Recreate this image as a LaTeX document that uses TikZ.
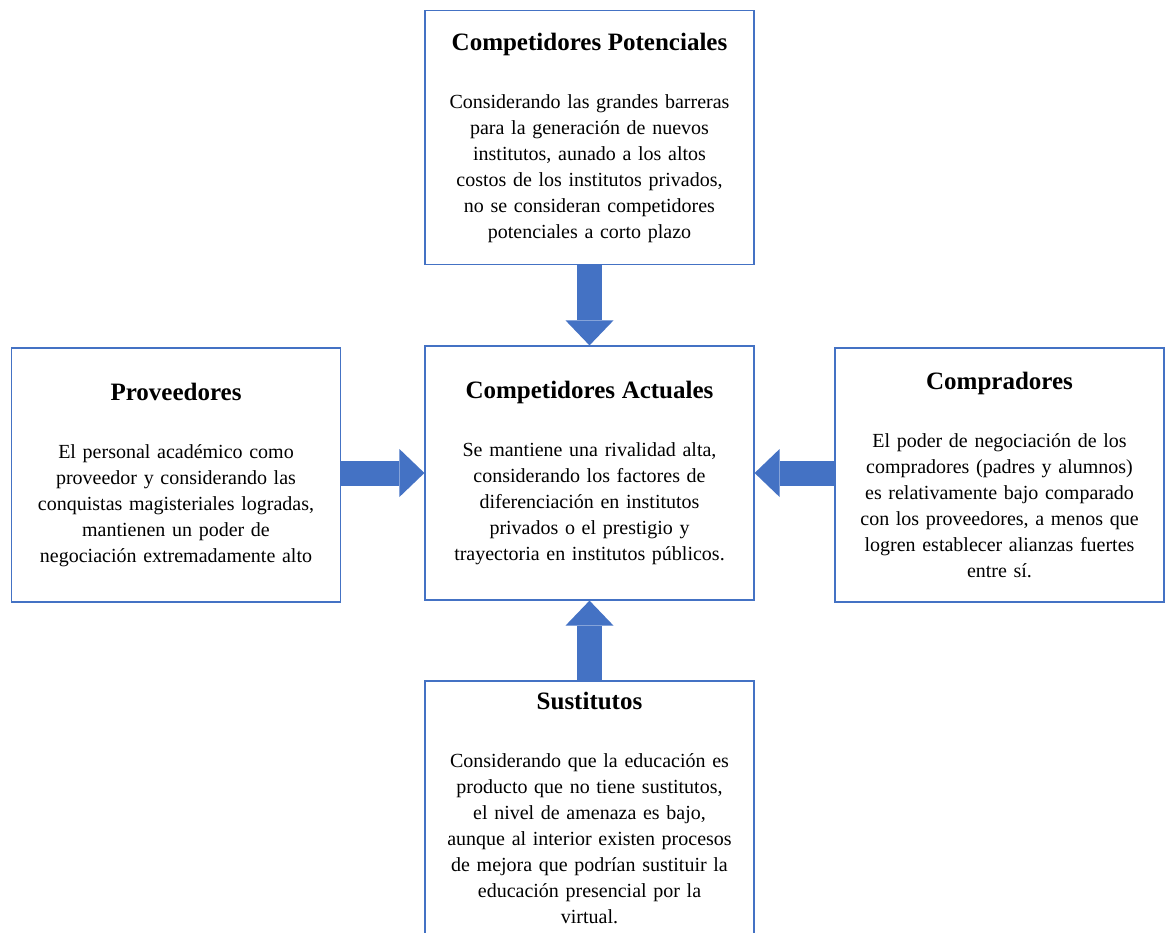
\documentclass[tikz,border=0pt]{standalone}
\usepackage{fontspec}
\setmainfont{Liberation Serif}
\usepackage{xcolor}
\usetikzlibrary{arrows.meta}
\definecolor{azul}{HTML}{4472C4}
\newcommand{\titulo}[1]{{\bfseries\fontsize{25}{30}\selectfont #1}\\[32pt]}

\begin{document}
\begin{tikzpicture}[x=1pt,y=-1pt,
        caja/.style={draw=azul,line width=1.2pt,fill=white,minimum width=329pt,minimum height=254pt,
            text width=320pt,align=center,inner sep=2pt,font=\fontsize{20}{26}\selectfont},
        flecha/.style={azul,line width=25pt,-{Triangle[width=48pt,length=25pt,line width=0pt]}}]
        \useasboundingbox (0,0) rectangle (1165,932);
        % cajas
        \node[caja](potenciales) at (589.5,137.5){\titulo{Competidores Potenciales}
            Considerando las grandes barreras\\ para la generación de nuevos\\ institutos, aunado a los altos\\
            costos de los institutos privados,\\ no se consideran competidores\\ potenciales a corto plazo};
        \node[caja](actuales) at (589.5,473){\titulo{Competidores Actuales}
            Se mantiene una rivalidad alta,\\ considerando los factores de\\ diferenciación en institutos\\
            privados o el prestigio y\\ trayectoria en institutos públicos.};
        \node[caja](proveedores) at (176,475){\titulo{Proveedores}
            El personal académico como\\ proveedor y considerando las\\ conquistas magisteriales logradas,\\
            mantienen un poder de\\ negociación extremadamente alto};
        \node[caja](compradores) at (999.5,475){\titulo{Compradores}
            El poder de negociación de los\\ compradores (padres y alumnos)\\ es relativamente bajo comparado\\
            con los proveedores, a menos que\\ logren establecer alianzas fuertes\\ entre sí.};
        \node[caja](sustitutos) at (589.5,808){\titulo{Sustitutos}
            Considerando que la educación es\\ producto que no tiene sustitutos,\\ el nivel de amenaza es bajo,\\
            aunque al interior existen procesos\\ de mejora que podrían sustituir la\\ educación presencial por la\\ virtual.};
        % flechas
        \draw[flecha](potenciales)--(actuales);
        \draw[flecha](proveedores.east |- actuales.west)--(actuales.west);
        \draw[flecha](compradores.west |- actuales.east)--(actuales.east);
        \draw[flecha](sustitutos)--(actuales);
    \end{tikzpicture}
\end{document}
